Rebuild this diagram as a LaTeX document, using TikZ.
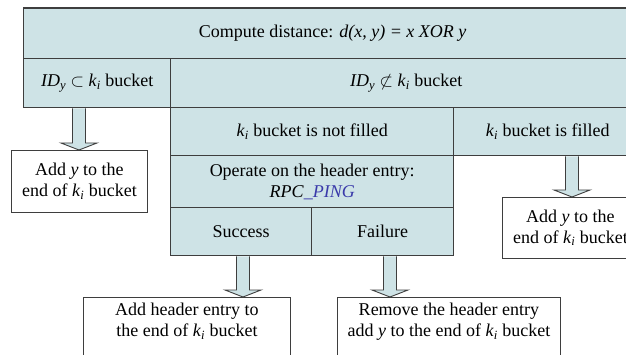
\documentclass[tikz,border=0pt]{standalone}
\usepackage{fontspec}
\setmainfont{Liberation Serif}
\usetikzlibrary{calc}
\definecolor{cellfill}{RGB}{206,227,230}
\definecolor{linegray}{RGB}{62,62,62}
\definecolor{pingblue}{RGB}{58,58,170}
\newcommand{\kbuck}{\textit{k}\textsubscript{\textit{i}}}
\newcommand{\idy}{\textit{ID}\textsubscript{\textit{y}}}
\begin{document}
\begin{tikzpicture}[x=1pt,y=-1pt,font=\fontsize{18}{21}\selectfont,
		cell/.style={draw=linegray,line width=1.4pt,fill=cellfill,inner sep=0pt,anchor=north west,align=center},
		outbox/.style={draw=linegray,line width=0.9pt,fill=white,inner sep=0pt,anchor=north west,align=center},
		fatarrow/.style={draw=linegray,line width=0.9pt,fill=cellfill}]
		\useasboundingbox (0,0) rectangle (626,355);
		\clip (0,0) rectangle (626,355);
		% table
		\node[cell,minimum width=618pt,minimum height=50.5pt] (cdist) at (23,7.5) {Compute distance: \textit{d(x, y) = x XOR y}};
		\node[cell,minimum width=147pt,minimum height=49pt] (cin) at (23,58) {\idy{} $\subset$ \kbuck{} bucket};
		\node[cell,minimum width=471pt,minimum height=49pt] (cout) at (170,58) {\idy{} $\not\subset$ \kbuck{} bucket};
		\node[cell,minimum width=283pt,minimum height=48pt] (cnot) at (170,107) {\kbuck{} bucket is not filled};
		\node[cell,minimum width=188pt,minimum height=48pt] (cfull) at (453,107) {\kbuck{} bucket is filled};
		\node[cell,minimum width=283pt,minimum height=52pt] (cping) at (170,155) {Operate on the header entry:\\ \textit{RPC}\textcolor{pingblue}{\textit{\_PING}}};
		\node[cell,minimum width=141pt,minimum height=48pt] (csucc) at (170,207) {Success};
		\node[cell,minimum width=142pt,minimum height=48pt] (cfail) at (311,207) {Failure};
		% result boxes
		\node[outbox,minimum width=136pt,minimum height=62pt] (addin) at (11,150) {Add \textit{y} to the\\ end of \kbuck{} bucket};
		\node[outbox,minimum width=136pt,minimum height=61pt] (addfull) at (502,197) {Add \textit{y} to the\\ end of \kbuck{} bucket};
		\node[outbox,minimum width=207pt,minimum height=66pt] (addsucc) at (83,297) {Add header entry to\\ the end of \kbuck{} bucket\\ ~};
		\node[outbox,minimum width=223pt,minimum height=66pt] (addfail) at (337,297) {Remove the header entry\\ add \textit{y} to the end of \kbuck{} bucket\\ ~};
		% block arrows
		\foreach \ax/\src/\dst in {79/cin/addin,572/cfull/addfull,243/csucc/addsucc,390/cfail/addfail}{
			\path (\ax,0 |- \src.south) coordinate (atop) (\ax,0 |- \dst.north) coordinate (atip);
			\filldraw[fatarrow] ($(atop)+(-6.5,0)$) -- ($(atip)+(-6.5,-7)$) -- ($(atip)+(-18,-7)$) -- (atip)
				-- ($(atip)+(18,-7)$) -- ($(atip)+(6.5,-7)$) -- ($(atop)+(6.5,0)$);
		}
	\end{tikzpicture}
\end{document}
